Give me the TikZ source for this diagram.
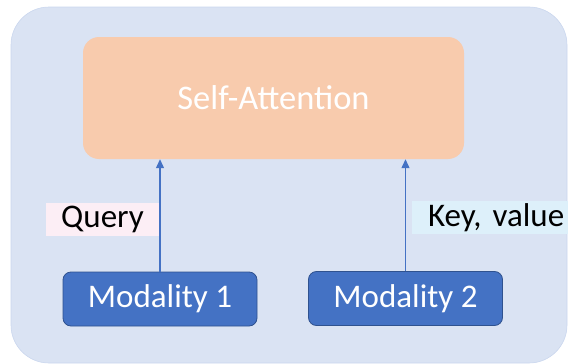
\documentclass[tikz,border=0pt]{standalone}
\usepackage{fontspec}
\setmainfont{Carlito}
\usetikzlibrary{arrows.meta}
\definecolor{panelbg}{HTML}{DAE3F3}
\definecolor{panelrim}{HTML}{CAD7EE}
\definecolor{attnfill}{HTML}{F8CBAD}
\definecolor{modblue}{HTML}{4472C4}
\definecolor{modrim}{HTML}{2F528F}
\definecolor{querybg}{HTML}{FCEEF5}
\definecolor{keybg}{HTML}{DDF0FA}
\tikzset{
  txt/.style={font=\fontsize{33}{40}\selectfont},
  attnbox/.style={font=\fontsize{34.5}{41}\selectfont, fill=attnfill, text=white,
    rounded corners=16pt, minimum width=381pt, minimum height=122pt, inner sep=0pt},
  modbox/.style={txt, fill=modblue, draw=modrim, line width=0.8pt, text=white,
    rounded corners=8pt, minimum width=194pt, minimum height=54pt, inner sep=0pt},
  tag/.style={txt, text=black, inner sep=0pt, minimum height=33pt},
  flow/.style={draw=modblue, line width=1.2pt, -{Triangle[length=9pt,width=8pt]}},
}
\begin{document}
\begin{tikzpicture}[x=1pt, y=-1pt]
  \useasboundingbox (0,0) rectangle (568,364);
  % background panel
  \begin{scope}
    \clip (0,0) rectangle (568,364);
    \fill[panelbg, draw=panelrim, line width=0.6pt, rounded corners=38pt]
      (11,7) rectangle (567,363);
  \end{scope}
  % attention block and the two inputs
  \node[attnbox] (sa) at (273.5,98) {Self-Attention};
  \node[modbox] (m1) at (160,299) {Modality 1};
  \node[modbox] (m2) at (405.5,298.5) {Modality 2};
  % labels beside the arrows
  \node[tag, fill=querybg, minimum width=113pt] (q) at (102.5,219) {Query};
  \begin{scope}
    \clip (0,0) rectangle (568,364);
    \node[tag, fill=keybg, minimum width=170pt, text width=138pt, align=left]
      (kv) at (497,217.5) {Key, value};
  \end{scope}
  % connectors
  \draw[flow] (m1.north) -- (m1.north |- sa.south);
  \draw[flow] (m2.north) -- (m2.north |- sa.south);
\end{tikzpicture}
\end{document}
